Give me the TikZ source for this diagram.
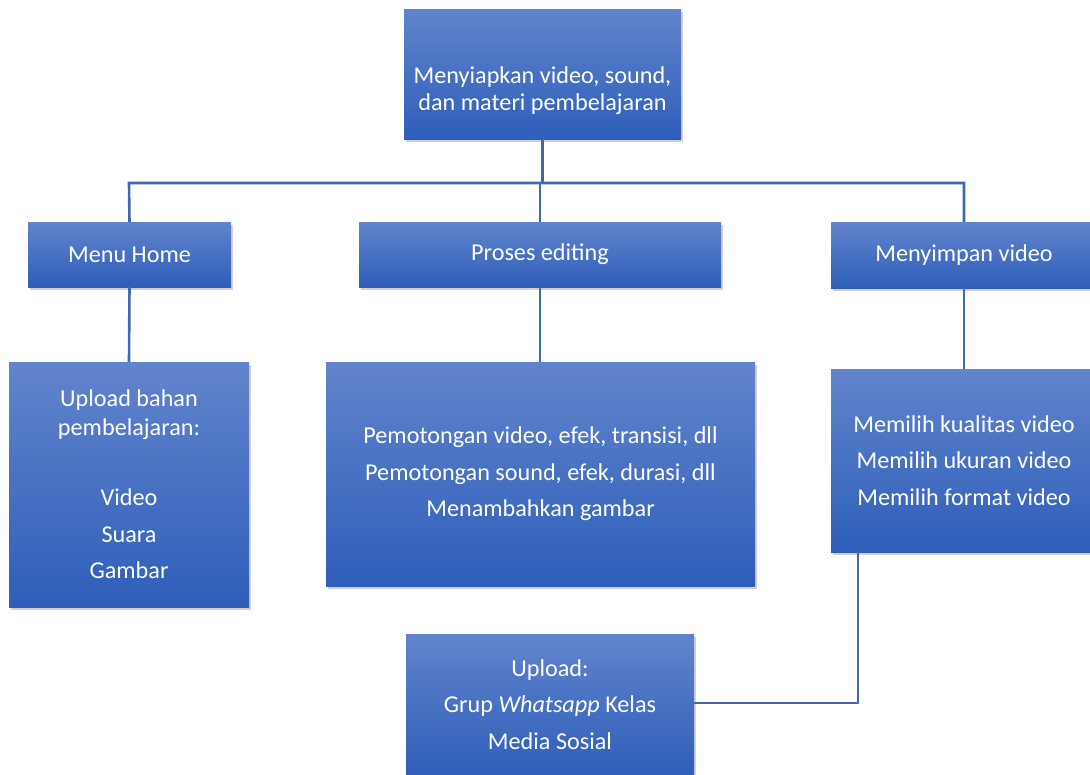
\documentclass[tikz,border=0pt]{standalone}
\usepackage{fontspec}
\setmainfont{Carlito}
\usetikzlibrary{shadows}
\definecolor{boxtop}{RGB}{98,132,204}
\definecolor{boxbot}{RGB}{46,94,185}
\definecolor{linec}{RGB}{66,104,176}
\tikzset{
  box/.style={rectangle, top color=boxtop, bottom color=boxbot, draw=none,
    drop shadow={shadow xshift=2pt, shadow yshift=-3pt, opacity=0.18, fill=black},
    text=white, align=center, inner sep=0pt,
    font=\fontsize{24.2}{36.5}\selectfont},
  txt/.style={text=white, align=center, inner sep=0pt, font=\fontsize{24.2}{36.5}\selectfont},
  conn/.style={draw=linec, line width=2.6pt}
}
\begin{document}
\begin{tikzpicture}[x=1pt,y=-1pt]
\useasboundingbox (0,0) rectangle (1090,774);
\begin{scope}
\clip (0,0) rectangle (1090,774);
\coordinate (busL) at (129,183);
\coordinate (corner) at (858,703);
\node[box, minimum width=277pt, minimum height=130pt] (top) at (542.5,74) {};
\node[txt] (toptxt) at (542.5,91) {Menyiapkan video, sound,\\[-9.5pt]dan materi pembelajaran};
\node[box, minimum width=203pt, minimum height=65pt] (home) at (129.5,254.5) {Menu Home};
\node[box, minimum width=362pt, minimum height=65pt] (edit) at (540,254.5) {Proses editing};
\node[box, minimum width=266pt, minimum height=66pt] (save) at (964,255) {Menyimpan video};
\node[box, minimum width=240pt, minimum height=245pt] (bahan) at (129,484.5)
  {Upload bahan\\[-7.5pt]pembelajaran:\\[33.5pt]Video\\Suara\\Gambar};
\node[box, minimum width=429pt, minimum height=224pt] (potong) at (540.5,474)
  {Pemotongan video, efek, transisi, dll\\Pemotongan sound, efek, durasi, dll\\Menambahkan gambar};
\node[box, minimum width=266pt, minimum height=183pt] (pilih) at (964,460.5)
  {Memilih kualitas video\\Memilih ukuran video\\Memilih format video};
\node[box, minimum width=288pt, minimum height=141pt] (upload) at (550,704.5)
  {Upload:\\Grup \textit{Whatsapp} Kelas\\Media Sosial};
\draw[conn] (top.south) -- (top.south |- busL);
\draw[conn] (home.north) -- (busL) -- (save.north |- busL) -- (save.north);
\draw[conn] (edit.north) -- (edit.north |- busL);
\draw[conn] (home.south) -- (bahan.north);
\draw[conn] (edit.south) -- (edit.south |- potong.north);
\draw[conn] (save.south) -- (pilih.north);
\draw[conn] (corner |- pilih.south) -- (corner) -- (upload.east |- corner);
\end{scope}
\end{tikzpicture}
\end{document}
